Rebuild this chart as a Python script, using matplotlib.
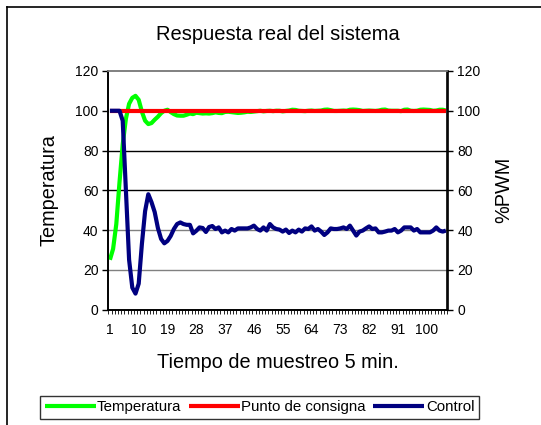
import numpy as np
import matplotlib
matplotlib.use("Agg")
import matplotlib.pyplot as plt
from matplotlib.lines import Line2D
from matplotlib.ticker import MultipleLocator, FixedLocator

plt.rcParams['font.family'] = ['Liberation Sans', 'DejaVu Sans']

# datos
temperatura = [25, 30.5, 43, 64, 83, 96, 103.5, 106.5, 107.5, 105.5,
               99.5, 95, 93.3, 93.8, 95.5, 97, 98.8, 100, 100.5, 99.3,
               98.3, 97.6, 97.5, 97.5, 98, 98.6, 98.3, 99, 98.8, 98.6,
               98.7, 98.6, 98.8, 99.2, 98.9, 98.8, 99.4, 99.5, 99.3, 99.1,
               98.9, 99.0, 99.2, 99.5, 99.4, 99.6, 99.8, 100, 99.7, 99.9,
               100.0, 99.8, 100, 100.0, 99.7, 99.9, 100.1, 100.5, 100.4, 100.0,
               99.9, 99.8, 100.0, 100.1, 99.9, 100.0, 100.1, 100.5, 100.6, 100.3,
               99.9, 99.9, 100.0, 100.1, 100.0, 100.5, 100.6, 100.5, 100.3, 99.9,
               100.0, 100.1, 100.0, 99.9, 100.1, 100.5, 100.6, 100.1, 100.0, 100.0,
               100.0, 99.8, 100.5, 100.6, 100.0, 99.9, 100.0, 100.5, 100.6, 100.5,
               100.4, 100.0, 100.1, 100.5, 100.5, 100.1]
consigna = [100] * 106
control = [100, 100, 100, 100, 95, 60, 25, 11, 8, 13,
           33, 49.5, 58, 54, 49, 41, 35.5, 33.3, 34.5, 37,
           40.5, 43, 43.8, 43, 42.6, 42.6, 38.3, 39.6, 41.3, 41,
           39, 41.5, 42, 40.5, 41.3, 38.8, 39.7, 38.8, 40.5, 39.7,
           40.8, 40.8, 40.8, 40.8, 41.3, 42.2, 40.5, 39.7, 41.3, 39.7,
           43, 41.3, 40.5, 40.2, 39.2, 40.2, 38.5, 39.7, 38.8, 40.2,
           39.2, 40.8, 40.5, 41.8, 39.7, 40.5, 39.2, 37.5, 38.8, 40.8,
           40.5, 40.5, 40.8, 41.3, 40.5, 42.2, 39.7, 37.2, 39.2, 39.7,
           40.8, 41.8, 40.5, 40.8, 38.8, 38.8, 39.2, 39.7, 39.7, 40.5,
           38.8, 39.7, 41.3, 41.3, 41.3, 39.7, 40.5, 38.8, 38.8, 38.8,
           38.8, 39.7, 41.3, 39.7, 39.2, 39.7]
etiquetas_x = list(range(1, 101, 9))

x = np.arange(1, len(control) + 1)

fig = plt.figure(figsize=(5.41, 4.25), dpi=100)
ax = fig.add_axes([108.3 / 541, 1 - 309.5 / 425, 339.2 / 541, 238.5 / 425])
ax2 = ax.twinx()

l1, = ax.plot(x, temperatura, color='#00ff00', lw=3, solid_capstyle='butt', zorder=3)
l2, = ax.plot(x, consigna, color='#ff0000', lw=3, solid_capstyle='butt', zorder=4)
l3, = ax2.plot(x, control, color='#000080', lw=3, solid_capstyle='butt', zorder=5)

for a in (ax, ax2):
    a.set_xlim(0.5, len(x) + 0.5)
    a.set_ylim(0, 120)
    a.yaxis.set_major_locator(MultipleLocator(20))

# lineas de division
for v, c in zip([20, 40, 60, 80], ['#808080', '#808080', 'black', 'black']):
    ax.axhline(v, color=c, lw=1, zorder=1)

ax.xaxis.set_major_locator(FixedLocator(etiquetas_x))
ax.xaxis.set_minor_locator(FixedLocator(np.arange(0.5, len(x) + 1, 1)))
ax.tick_params(axis='x', which='major', length=0, labelsize=10, pad=10)
ax.tick_params(axis='x', which='minor', length=3, width=0.6, direction='out')
ax.tick_params(axis='y', length=4, width=1, labelsize=10, pad=3)
ax2.tick_params(axis='y', length=4, width=1, labelsize=10, pad=3)

for a in (ax, ax2):
    a.spines['top'].set_color('#808080')
    a.spines['top'].set_linewidth(1.2)
    for s in ('left', 'right', 'bottom'):
        a.spines[s].set_linewidth(1.2)

ax.set_title('Respuesta real del sistema', fontsize=14.5, pad=22)
ax.set_xlabel('Tiempo de muestreo 5 min.', fontsize=14.3, labelpad=11)
ax.set_ylabel('Temperatura', fontsize=14.3, labelpad=12)
ax2.set_ylabel('%PWM', fontsize=14.3, labelpad=10)

leg = fig.legend([l1, l2, l3], ['Temperatura', 'Punto de consigna', 'Control'],
                 loc='center', bbox_to_anchor=(259.5 / 541, 1 - 407 / 425), ncol=3,
                 fontsize=10.8, frameon=True, fancybox=False, edgecolor='black',
                 handlelength=3.4, handletextpad=0.1, columnspacing=0.5,
                 borderpad=0.3, borderaxespad=0)
leg.get_frame().set_linewidth(1)

# marco exterior (solo se ven los bordes izquierdo y superior)
fig.lines.append(Line2D([7 / 541, 7 / 541], [0, 1 - 7 / 425], transform=fig.transFigure,
                        color='black', lw=1.2))
fig.lines.append(Line2D([7 / 541, 1], [1 - 7 / 425, 1 - 7 / 425], transform=fig.transFigure,
                        color='black', lw=1.2))

fig.savefig('out.png', dpi=100)
